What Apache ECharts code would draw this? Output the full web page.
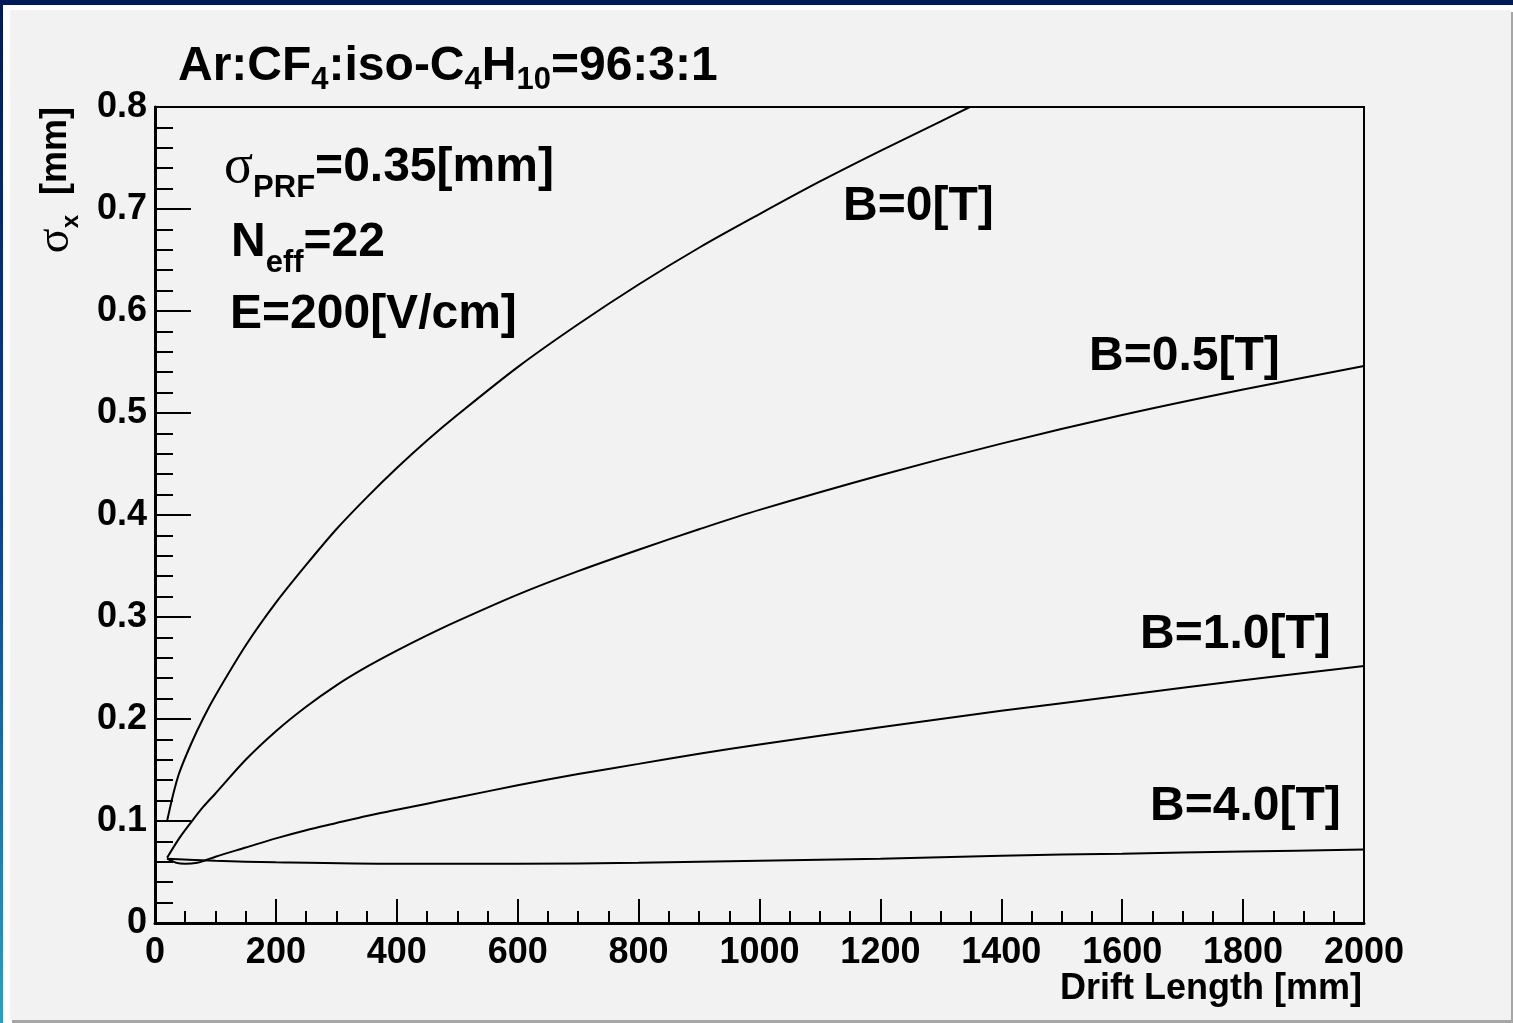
<!DOCTYPE html>
<html>
<head>
<meta charset="utf-8">
<title>Drift length resolution</title>
<script src="https://cdn.jsdelivr.net/npm/echarts@6/dist/echarts.min.js"></script>
<style>
  html, body { margin: 0; padding: 0; background: #ffffff; }
  #chart { width: 1513px; height: 1023px; }
</style>
</head>
<body>
<div id="chart"></div>
<script>
// Drift length [mm] sample points and sigma_x [mm] for each magnetic field
const lengthB0   = [20, 30, 40, 60, 80, 100, 150, 200, 250, 300, 350, 400, 450, 500, 600, 700, 800, 900, 1000, 1100, 1200, 1300, 1348];
const sigmaB0    = [0.100, 0.126, 0.147, 0.176, 0.201, 0.223, 0.272, 0.314, 0.351, 0.386, 0.417, 0.446, 0.473, 0.498, 0.545, 0.587, 0.626, 0.662, 0.695, 0.727, 0.757, 0.786, 0.800];

const lengthB05  = [20, 40, 60, 80, 100, 150, 200, 250, 300, 350, 400, 450, 500, 600, 700, 800, 900, 1000, 1200, 1400, 1600, 1800, 2000];
const sigmaB05   = [0.064, 0.083, 0.099, 0.114, 0.127, 0.160, 0.188, 0.212, 0.233, 0.251, 0.267, 0.282, 0.296, 0.322, 0.345, 0.366, 0.386, 0.405, 0.439, 0.470, 0.498, 0.523, 0.546];

const lengthB10  = [20, 35, 50, 70, 86, 100, 150, 200, 250, 300, 350, 400, 450, 500, 600, 700, 800, 900, 1000, 1200, 1400, 1600, 1800, 2000];
const sigmaB10   = [0.063, 0.059, 0.058, 0.059, 0.062, 0.065, 0.074, 0.083, 0.091, 0.098, 0.105, 0.111, 0.117, 0.123, 0.135, 0.146, 0.156, 0.166, 0.175, 0.192, 0.208, 0.223, 0.238, 0.252];

const lengthB40  = [20, 100, 200, 400, 600, 800, 1000, 1200, 1400, 1600, 1800, 2000];
const sigmaB40   = [0.063, 0.061, 0.0595, 0.058, 0.058, 0.059, 0.061, 0.063, 0.066, 0.068, 0.070, 0.072];

const xTicks = [0, 200, 400, 600, 800, 1000, 1200, 1400, 1600, 1800, 2000];
const yTicks = [0, 0.1, 0.2, 0.3, 0.4, 0.5, 0.6, 0.7, 0.8];

const fieldLabels = ['B=0[T]', 'B=0.5[T]', 'B=1.0[T]', 'B=4.0[T]'];

const SANS = '"Liberation Sans", Arial, Helvetica, sans-serif';
const SERIF = '"Liberation Serif", "Times New Roman", serif';

function pairs(xs, ys) { return xs.map((x, i) => [x, ys[i]]); }

function curve(name, xs, ys) {
  return {
    name: name,
    type: 'line',
    data: pairs(xs, ys),
    smooth: 0.3,
    symbol: 'none',
    clip: true,
    lineStyle: { color: '#000000', width: 2 },
    z: 3
  };
}

// rich styles for the big bold annotations; subscripts are pushed down with top padding
const bigRich = {
  m:  { fontFamily: SANS, fontWeight: 'bold', fontSize: 48, lineHeight: 48, color: '#000', verticalAlign: 'top' },
  g:  { fontFamily: SERIF, fontWeight: 'normal', fontSize: 54, lineHeight: 48, color: '#000', verticalAlign: 'middle' },
  s:  { fontFamily: SANS, fontWeight: 'bold', fontSize: 31, lineHeight: 48, color: '#000', verticalAlign: 'top', padding: [22, 0, 0, 0] },
  d:  { fontFamily: SANS, fontWeight: 'bold', fontSize: 31, lineHeight: 48, color: '#000', verticalAlign: 'top', padding: [29, 0, 0, 0] }
};

function label(text, x, y) {
  return {
    type: 'text',
    x: x, y: y,
    z: 10,
    style: {
      text: text,
      rich: bigRich,
      fill: '#000',
      font: 'bold 48px ' + SANS,
      align: 'left',
      verticalAlign: 'top'
    }
  };
}

const chart = echarts.init(document.getElementById('chart'), null, { renderer: 'canvas' });

const option = {
  animation: false,
  backgroundColor: '#ffffff',
  grid: {
    left: 155, right: 149, top: 107, bottom: 100,
    show: true,
    borderColor: '#000000',
    borderWidth: 2,
    backgroundColor: 'transparent',
    z: 4
  },
  xAxis: {
    type: 'value',
    min: xTicks[0],
    max: xTicks[xTicks.length - 1],
    interval: xTicks[1] - xTicks[0],
    axisLine: { show: true, onZero: false, lineStyle: { color: '#000', width: 3 } },
    axisTick: { show: true, inside: true, length: 24, lineStyle: { color: '#000', width: 2 } },
    minorTick: { show: true, splitNumber: 4, length: 12, lineStyle: { color: '#000', width: 2 } },
    splitLine: { show: false },
    axisLabel: {
      show: true,
      margin: 12,
      color: '#000',
      fontFamily: SANS,
      fontWeight: 'bold',
      fontSize: 36,
      formatter: v => String(v)
    },
    z: 5
  },
  yAxis: {
    type: 'value',
    min: yTicks[0],
    max: yTicks[yTicks.length - 1],
    interval: 0.1,
    axisLine: { show: true, onZero: false, lineStyle: { color: '#000', width: 3 } },
    axisTick: { show: true, inside: true, length: 36, lineStyle: { color: '#000', width: 2 } },
    minorTick: { show: true, splitNumber: 5, length: 18, lineStyle: { color: '#000', width: 2 } },
    splitLine: { show: false },
    axisLabel: {
      show: true,
      margin: 8,
      color: '#000',
      fontFamily: SANS,
      fontWeight: 'bold',
      fontSize: 36,
      formatter: v => (v === 0 ? '0' : (+v.toFixed(1)).toString())
    },
    z: 5
  },
  series: [
    curve(fieldLabels[0], lengthB0, sigmaB0),
    curve(fieldLabels[1], lengthB05, sigmaB05),
    curve(fieldLabels[2], lengthB10, sigmaB10),
    curve(fieldLabels[3], lengthB40, sigmaB40)
  ],
  graphic: [
    // slide backdrop: navy band on top, blue gradient down the left side
    { type: 'rect', z: -10, shape: { x: 0, y: 0, width: 1513, height: 1023 },
      style: { fill: new echarts.graphic.LinearGradient(0, 0, 0, 1, [
        { offset: 0, color: '#001a57' }, { offset: 0.5, color: '#0a3f9a' }, { offset: 1, color: '#2a9fc2' }]) } },
    { type: 'rect', z: -9, shape: { x: 0, y: 0, width: 1513, height: 5 }, style: { fill: '#001a57' } },
    { type: 'rect', z: -9, shape: { x: 3, y: 5, width: 1510, height: 1018 }, style: { fill: '#ffffff' } },
    // canvas pad with a grey drop shadow on the right and bottom
    { type: 'rect', z: -8, shape: { x: 12, y: 12, width: 1501, height: 1011 }, style: { fill: '#a6a6a6' } },
    { type: 'rect', z: -7, shape: { x: 10, y: 10, width: 1501, height: 1010 }, style: { fill: '#f2f2f2' } },

    // header
    label('{m|Ar:CF}{s|4}{m|:iso-C}{s|4}{m|H}{s|10}{m|=96:3:1}', 178, 43),
    // run parameters
    label('{g|σ}{d|PRF}{m|=0.35[mm]}', 224, 144),
    label('{m|N}{d|eff}{m|=22}', 231, 219),
    label('{m|E=200[V/cm]}', 230, 291),
    // curve labels
    label('{m|' + fieldLabels[0] + '}', 843, 183),
    label('{m|' + fieldLabels[1] + '}', 1089, 333),
    label('{m|' + fieldLabels[2] + '}', 1140, 611),
    label('{m|' + fieldLabels[3] + '}', 1150, 783),

    // axis titles
    { type: 'text', z: 10, x: 1362, y: 989,
      style: { text: 'Drift Length [mm]', font: 'bold 36px ' + SANS, fill: '#000', align: 'right', verticalAlign: 'middle' } },
    { type: 'text', z: 10, x: 56, y: 107, rotation: Math.PI / 2,
      style: {
        text: '{g|σ}{s|x}{m|  [mm]}',
        align: 'right', verticalAlign: 'middle', fill: '#000',
        font: 'bold 36px ' + SANS,
        rich: {
          g: { fontFamily: SERIF, fontSize: 46, lineHeight: 36, color: '#000', verticalAlign: 'middle' },
          s: { fontFamily: SANS, fontWeight: 'bold', fontSize: 24, lineHeight: 36, color: '#000', verticalAlign: 'top', padding: [21, 0, 0, 0] },
          m: { fontFamily: SANS, fontWeight: 'bold', fontSize: 36, lineHeight: 36, color: '#000', verticalAlign: 'top' }
        }
      } }
  ]
};

chart.setOption(option);
</script>
</body>
</html>
